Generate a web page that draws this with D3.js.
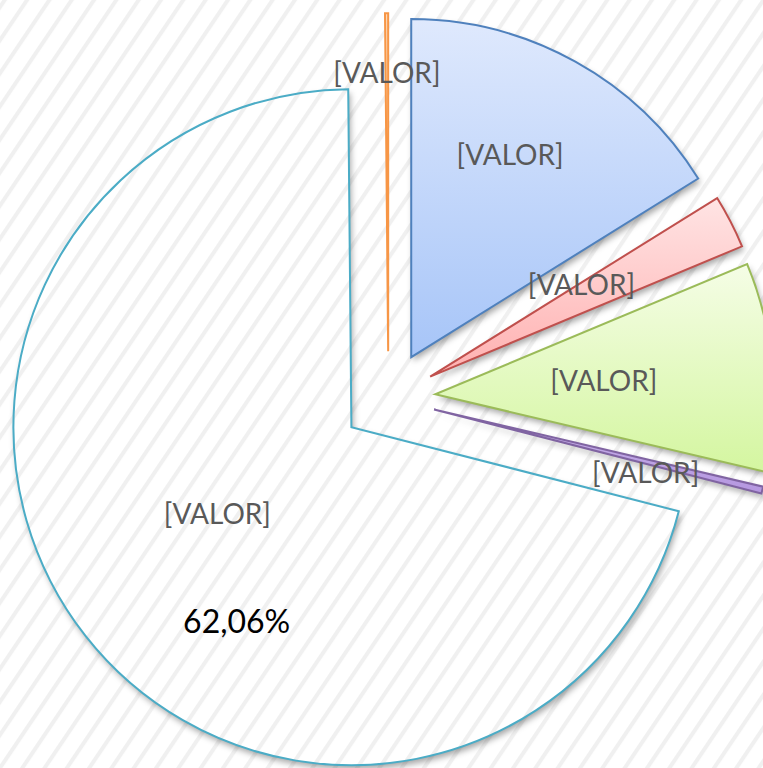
<!DOCTYPE html>
<html>
<head>
<meta charset="utf-8">
<script src="https://cdn.jsdelivr.net/npm/d3@7"></script>
<style>
  html, body { margin: 0; padding: 0; background: #fff; }
  svg { display: block; overflow: hidden; }
</style>
</head>
<body>
<svg id="chart"></svg>
<script>
// slice shares (percent)
const categories = ["Azul", "Rojo", "Verde", "Morado", "Turquesa", "Naranja"];
const values = [16.14, 2.56, 9.97, 0.33, 70.85, 0.15];
const labels = ["[VALOR]", "[VALOR]", "[VALOR]", "[VALOR]", "[VALOR]", "[VALOR]"];
const extraLabel = "62,06%";

const strokes = ["#4f81bd", "#c0504d", "#9bbb59", "#8064a2", "#4bacc6", "#f79646"];
const fillsTop = ["#dfe9fd", "#ffe4e4", "#f5fde6", "#c9b3ea", "none", "#fcd9b8"];
const fillsBottom = ["#a7c5f8", "#ffb0b0", "#d4f6a0", "#b597e0", "none", "#f9b77e"];
// label placement: [distance from slice tip, angle offset in degrees]
const labelAt = [[225, -3], [177, -4], [169, 0.3], [221, 3], [160, 5], [278, 0]];

const width = 763, height = 768;
const cx = 388.4, cy = 398.2;
const radius = 338;
const explode = 47;

const svg = d3.select("#chart").attr("width", width).attr("height", height);
const defs = svg.append("defs");

// diagonal hatch background
const pat = defs.append("pattern").attr("id", "hatch")
    .attr("patternUnits", "userSpaceOnUse")
    .attr("width", 18.5).attr("height", 40)
    .attr("patternTransform", "rotate(34)");
pat.append("line").attr("x1", 4).attr("x2", 4).attr("y1", -5).attr("y2", 45)
    .attr("stroke", "#f0f0f0").attr("stroke-width", 4);

const shadow = defs.append("filter").attr("id", "shadow")
    .attr("x", "-20%").attr("y", "-20%").attr("width", "140%").attr("height", "140%");
shadow.append("feGaussianBlur").attr("in", "SourceAlpha").attr("stdDeviation", 3).attr("result", "b");
shadow.append("feOffset").attr("in", "b").attr("dx", 2).attr("dy", 4).attr("result", "o");
shadow.append("feComposite").attr("in", "o").attr("in2", "SourceAlpha").attr("operator", "out").attr("result", "c");
shadow.append("feFlood").attr("flood-color", "#000").attr("flood-opacity", 0.35);
shadow.append("feComposite").attr("in2", "c").attr("operator", "in");

categories.forEach((c, i) => {
    if (fillsTop[i] === "none") return;
    const g = defs.append("linearGradient").attr("id", "grad" + i)
        .attr("x1", 0).attr("y1", 0).attr("x2", 0).attr("y2", 1);
    g.append("stop").attr("offset", "0%").attr("stop-color", fillsTop[i]);
    g.append("stop").attr("offset", "100%").attr("stop-color", fillsBottom[i]);
});

svg.append("rect").attr("width", width).attr("height", height).attr("fill", "#fff");
svg.append("rect").attr("width", width).attr("height", height).attr("fill", "url(#hatch)");

const pie = d3.pie().sort(null).value(d => d)(values);
const arc = d3.arc().innerRadius(0).outerRadius(radius);

const pieG = svg.append("g").attr("transform", `translate(${cx},${cy})`);

function offset(d) {
    const mid = (d.startAngle + d.endAngle) / 2;
    return [Math.sin(mid) * explode, -Math.cos(mid) * explode];
}

pieG.selectAll("path.shadow").data(pie).enter().append("path")
    .attr("class", "shadow")
    .attr("transform", d => `translate(${offset(d)})`)
    .attr("d", arc)
    .attr("fill", "#000")
    .attr("filter", "url(#shadow)");

pieG.selectAll("path.slice").data(pie).enter().append("path")
    .attr("class", "slice")
    .attr("transform", d => `translate(${offset(d)})`)
    .attr("d", arc)
    .attr("fill", (d, i) => fillsTop[i] === "none" ? "none" : `url(#grad${i})`)
    .attr("stroke", (d, i) => strokes[i])
    .attr("stroke-width", 2)
    .attr("stroke-linejoin", "miter");

function labelPos(d, i) {
    const [o0, o1] = offset(d);
    const a = (d.startAngle + d.endAngle) / 2 + labelAt[i][1] * Math.PI / 180;
    return [o0 + Math.sin(a) * labelAt[i][0], o1 - Math.cos(a) * labelAt[i][0]];
}

pieG.selectAll("text.lbl").data(pie).enter().append("text")
    .attr("class", "lbl")
    .attr("transform", (d, i) => `translate(${labelPos(d, i)})`)
    .attr("text-anchor", "middle")
    .attr("dy", "0.35em")
    .style("font-family", "Lato, 'Open Sans', sans-serif")
    .style("font-size", "28px")
    .attr("fill", "#595959")
    .text((d, i) => labels[i]);

// second line of the big slice's label
const big = pie[4];
const [bo0, bo1] = offset(big);
const ba = 210.5 * Math.PI / 180;
pieG.append("text")
    .attr("x", bo0 + Math.sin(ba) * 226)
    .attr("y", bo1 - Math.cos(ba) * 226)
    .attr("text-anchor", "middle")
    .attr("dy", "0.35em")
    .style("font-family", "Lato, 'Open Sans', sans-serif")
    .style("font-size", "32px")
    .attr("fill", "#000")
    .text(extraLabel);
</script>
</body>
</html>
